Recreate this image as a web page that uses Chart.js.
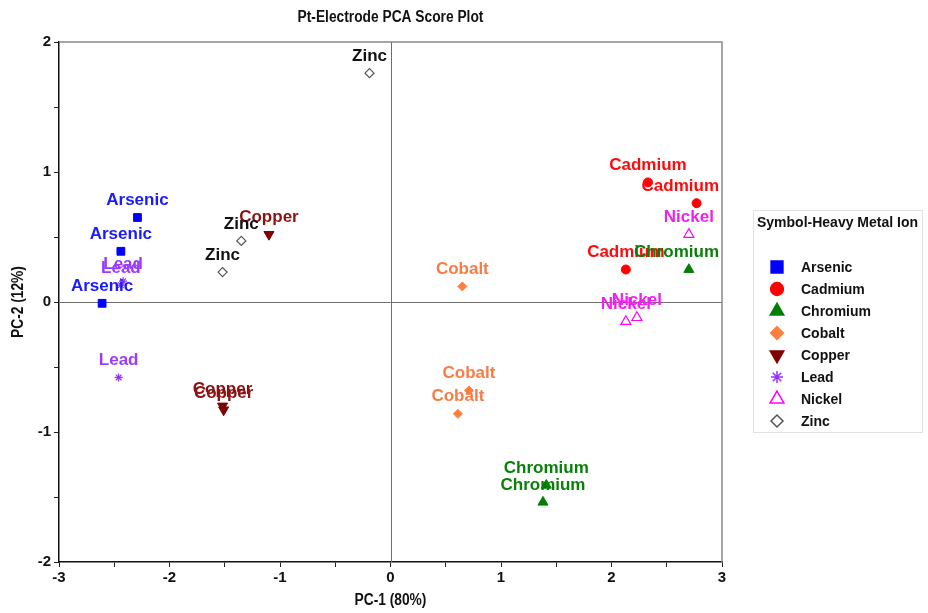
<!DOCTYPE html>
<html>
<head>
<meta charset="utf-8">
<script src="https://cdn.jsdelivr.net/npm/chart.js@4.4.0/dist/chart.umd.min.js"></script>
<style>
  html, body { margin: 0; padding: 0; background: #fff; }
  canvas { display: block; }
</style>
</head>
<body>
<canvas id="pcaChart" width="928" height="613"></canvas>
<script>
// series (metal ions) and their PC-1 / PC-2 scores
const metals = ['Arsenic', 'Cadmium', 'Chromium', 'Cobalt', 'Copper', 'Lead', 'Nickel', 'Zinc'];

const arsenicX = [-2.29, -2.44, -2.61];
const arsenicY = [0.65, 0.39, -0.01];
const cadmiumX = [2.33, 2.77, 2.13];
const cadmiumY = [0.92, 0.76, 0.25];
const chromiumX = [2.70, 1.41, 1.38];
const chromiumY = [0.25, -1.41, -1.54];
const cobaltX = [0.65, 0.71, 0.61];
const cobaltY = [0.12, -0.68, -0.86];
const copperX = [-1.10, -1.52, -1.51];
const copperY = [0.52, -0.80, -0.83];
const leadX = [-2.44, -2.42, -2.46];
const leadY = [0.13, 0.16, -0.58];
const nickelX = [2.70, 2.13, 2.23];
const nickelY = [0.52, -0.15, -0.12];
const zincX = [-0.19, -1.35, -1.52];
const zincY = [1.76, 0.47, 0.23];

const xTicks = [-3, -2, -1, 0, 1, 2, 3];
const yTicks = [-2, -1, 0, 1, 2];

// styles
const markerColors = ['#0000ff', '#ff0000', '#007f00', '#ff7f3f', '#7f0000', '#9130ff', '#ff00ff', '#555555'];
const labelColors  = ['#1a1aff', '#ff0a0a', '#0a800a', '#f87c44', '#8a1212', '#9a3cff', '#f020f0', '#111111'];
const fillColors   = ['#0000ff', '#ff0000', '#007f00', '#ff7f3f', '#7f0000', '#9130ff', '#ffffff', '#ffffff'];
const pointStyles  = ['rect', 'circle', 'triangle', 'rectRot', 'triangle', 'star', 'triangle', 'rectRot'];
const rotations    = [0, 0, 0, 0, 180, 0, 0, 0];
const plotRadius   = [5.5, 4.5, 5.8, 4.5, 5.8, 4, 5.8, 4.5];
const legendRadius = [8.5, 6.5, 8, 6.5, 8, 6, 8, 6];
const borderWidths = [1, 1, 1, 1, 1, 1.2, 1.2, 1.2];

const narrowFont = '"Liberation Sans Narrow", "Arial Narrow", "Liberation Sans", Arial, sans-serif';
const plainFont = '"Liberation Sans", Arial, sans-serif';

const seriesX = [arsenicX, cadmiumX, chromiumX, cobaltX, copperX, leadX, nickelX, zincX];
const seriesY = [arsenicY, cadmiumY, chromiumY, cobaltY, copperY, leadY, nickelY, zincY];

const datasets = metals.map((name, i) => ({
    label: name,
    data: seriesX[i].map((x, j) => ({ x: x, y: seriesY[i][j] })),
    pointStyle: pointStyles[i],
    rotation: rotations[i],
    pointRadius: plotRadius[i],
    pointHoverRadius: plotRadius[i],
    backgroundColor: fillColors[i],
    borderColor: markerColors[i],
    borderWidth: borderWidths[i],
    showLine: false
}));

// text squeezed sideways, the reference uses a condensed face
function narrowText(ctx, text, x, y, squeeze) {
    ctx.save();
    ctx.translate(x, y);
    ctx.scale(squeeze, 1);
    ctx.fillText(text, 0, 0);
    ctx.restore();
}

// title, axis titles, frame and zero lines
const frame = {
    id: 'frame',
    beforeDatasetsDraw(chart) {
        const ctx = chart.ctx;
        const a = chart.chartArea;
        const x0 = chart.scales.x.getPixelForValue(0);
        const y0 = chart.scales.y.getPixelForValue(0);
        ctx.save();
        ctx.strokeStyle = '#6e6e6e';
        ctx.lineWidth = 1;
        ctx.beginPath();
        ctx.moveTo(Math.round(x0) + 0.5, a.top);
        ctx.lineTo(Math.round(x0) + 0.5, a.bottom);
        ctx.moveTo(a.left, Math.round(y0) + 0.5);
        ctx.lineTo(a.right, Math.round(y0) + 0.5);
        ctx.stroke();
        ctx.strokeStyle = '#888888';
        ctx.lineWidth = 1.5;
        ctx.beginPath();
        ctx.moveTo(a.left, a.top);
        ctx.lineTo(a.right, a.top);
        ctx.lineTo(a.right, a.bottom);
        ctx.stroke();
        ctx.restore();
    },
    afterDraw(chart) {
        const ctx = chart.ctx;
        const a = chart.chartArea;
        const cx = (a.left + a.right) / 2;
        ctx.save();
        ctx.fillStyle = '#111';
        ctx.textAlign = 'center';
        ctx.textBaseline = 'middle';
        ctx.font = 'bold 16px ' + narrowFont;
        narrowText(ctx, 'Pt-Electrode PCA Score Plot', cx, 18, 0.86);
        ctx.font = 'bold 16px ' + narrowFont;
        narrowText(ctx, 'PC-1 (80%)', cx, 601, 0.86);
        ctx.translate(19, (a.top + a.bottom) / 2);
        ctx.rotate(-Math.PI / 2);
        narrowText(ctx, 'PC-2 (12%)', 0, 0, 0.86);
        ctx.restore();
    }
};

// name above every point, kept inside the plot area
const pointLabels = {
    id: 'pointLabels',
    afterDatasetsDraw(chart) {
        const ctx = chart.ctx;
        const a = chart.chartArea;
        ctx.save();
        ctx.font = 'bold 17px ' + plainFont;
        ctx.textAlign = 'center';
        ctx.textBaseline = 'middle';
        chart.data.datasets.forEach((ds, i) => {
            const w = ctx.measureText(ds.label).width;
            chart.getDatasetMeta(i).data.forEach(pt => {
                let x = pt.x;
                if (x + w / 2 > a.right - 3) x = a.right - 3 - w / 2;
                if (x - w / 2 < a.left + 3) x = a.left + 3 + w / 2;
                ctx.fillStyle = labelColors[i];
                ctx.fillText(ds.label, x, pt.y - 17);
            });
        });
        ctx.restore();
    }
};

// boxed legend at the right
const sideLegend = {
    id: 'sideLegend',
    afterDraw(chart) {
        const ctx = chart.ctx;
        const left = 753, top = 210, width = 169, height = 222;
        ctx.save();
        ctx.strokeStyle = '#e2e2e2';
        ctx.lineWidth = 1;
        ctx.strokeRect(left + 0.5, top + 0.5, width, height);
        ctx.fillStyle = '#111';
        ctx.font = 'bold 14px ' + plainFont;
        ctx.textAlign = 'center';
        ctx.textBaseline = 'middle';
        ctx.fillText('Symbol-Heavy Metal Ion', left + width / 2, 223);
        ctx.textAlign = 'left';
        ctx.font = 'bold 14px ' + plainFont;
        chart.data.datasets.forEach((ds, i) => {
            const y = 267 + i * 22;
            ctx.fillStyle = fillColors[i];
            ctx.strokeStyle = markerColors[i];
            ctx.lineWidth = borderWidths[i] + 0.3;
            Chart.helpers.drawPoint(ctx, {
                pointStyle: pointStyles[i],
                rotation: rotations[i],
                radius: legendRadius[i],
                borderWidth: borderWidths[i]
            }, 777, y);
            ctx.fillStyle = '#111';
            ctx.fillText(ds.label, 801, y + 1);
        });
        ctx.restore();
    }
};

const axisFont = { family: narrowFont, size: 15, weight: 'bold' };

new Chart(document.getElementById('pcaChart'), {
    type: 'scatter',
    data: { datasets: datasets },
    options: {
        responsive: false,
        animation: false,
        layout: { padding: { left: 0, top: 42, right: 206, bottom: 0 } },
        plugins: {
            legend: { display: false },
            tooltip: { enabled: false },
            title: { display: false }
        },
        scales: {
            x: {
                type: 'linear',
                min: xTicks[0],
                max: xTicks[xTicks.length - 1],
                afterFit(scale) { scale.height = 51; },
                ticks: {
                    stepSize: 0.5,
                    color: '#111',
                    font: axisFont,
                    padding: 2,
                    autoSkip: false,
                    maxRotation: 0,
                    callback: v => xTicks.includes(v) ? String(v) : ''
                },
                grid: { drawOnChartArea: false, drawTicks: true, tickLength: 5, color: '#222' },
                border: { display: true, color: '#111', width: 1.5 }
            },
            y: {
                type: 'linear',
                min: yTicks[0],
                max: yTicks[yTicks.length - 1],
                afterFit(scale) { scale.width = 59; },
                ticks: {
                    stepSize: 0.5,
                    color: '#111',
                    font: axisFont,
                    padding: 3,
                    autoSkip: false,
                    callback: v => yTicks.includes(v) ? String(v) : ''
                },
                grid: { drawOnChartArea: false, drawTicks: true, tickLength: 5, color: '#222' },
                border: { display: true, color: '#111', width: 1.5 }
            }
        }
    },
    plugins: [frame, pointLabels, sideLegend]
});
</script>
</body>
</html>
